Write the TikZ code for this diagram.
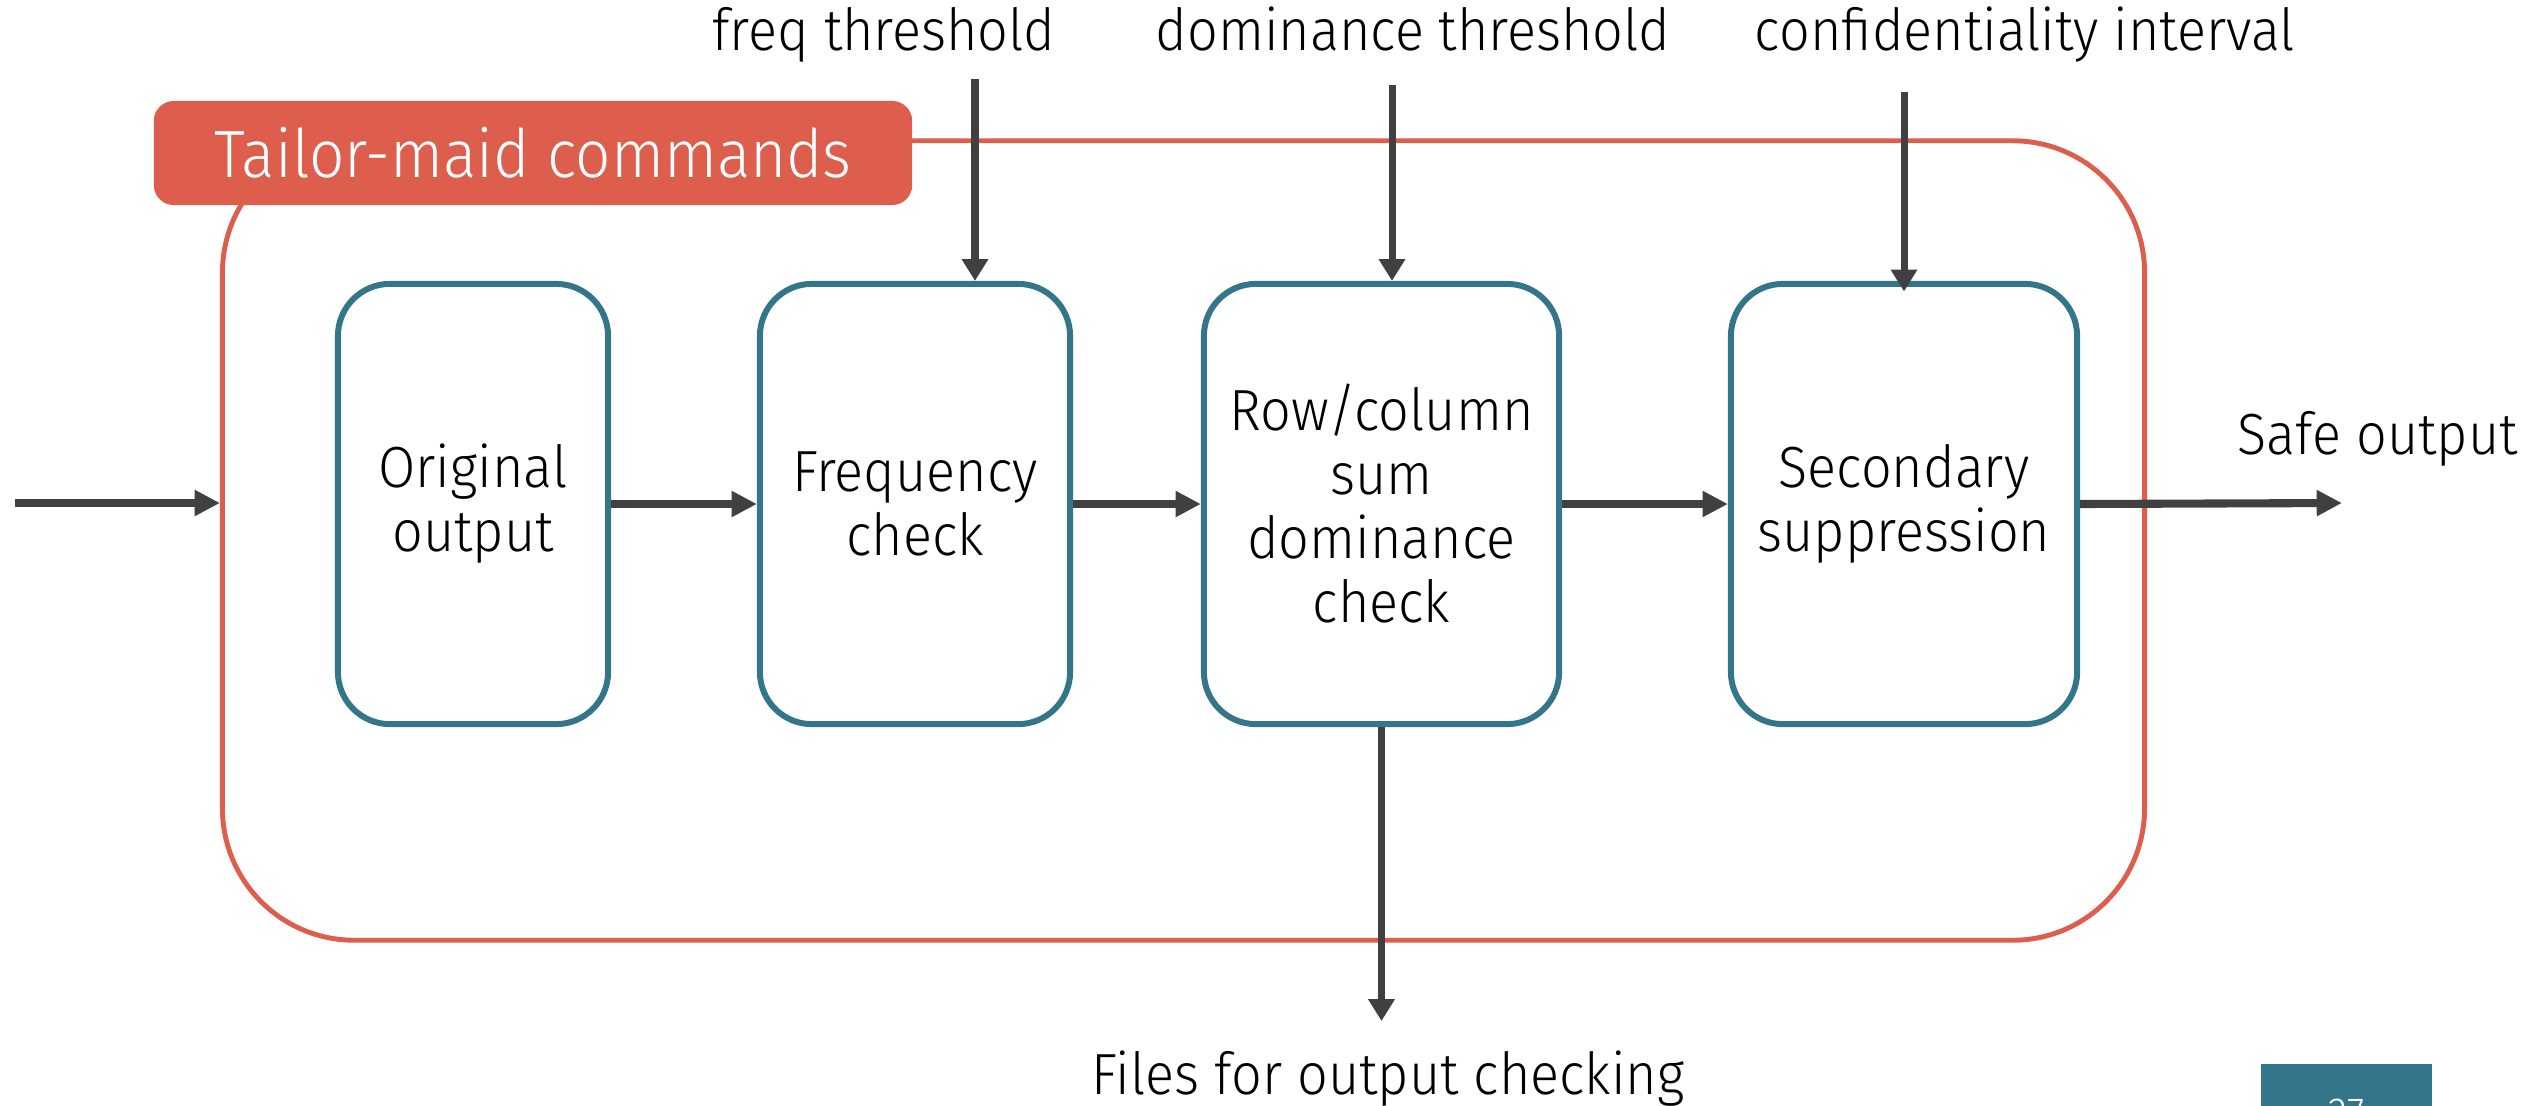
\documentclass[tikz,border=0pt]{standalone}
\usepackage{fontspec}
\setmainfont{Fira Sans Light}[FakeStretch=0.93]
\usetikzlibrary{arrows.meta}
\definecolor{tagred}{HTML}{DD5E4C}
\definecolor{stepteal}{HTML}{337689}
\definecolor{arrowgray}{HTML}{404040}
\begin{document}
\begin{tikzpicture}[x=0.01cm,y=-0.01cm,
  bodyfont/.style={font=\fontsize{16.5}{18.2}\selectfont},
  frame/.style={draw=tagred, line width=1.4pt, rounded corners=37.5pt,
    minimum width=19.21cm, minimum height=7.99cm, inner sep=0pt},
  tagbox/.style={fill=tagred, rounded corners=5.7pt, text=white,
    minimum width=7.58cm, minimum height=1.04cm, inner sep=0pt,
    font=\fontsize{19}{22}\selectfont},
  stepbox/.style={draw=stepteal, line width=1.7pt, rounded corners=14.8pt,
    minimum height=4.40cm, inner sep=0pt, align=center, bodyfont},
  flow/.style={draw=arrowgray, line width=2.3pt,
    -{Triangle[length=7.2pt,width=7pt]}},
  param/.style={draw=arrowgray, line width=2pt,
    -{Triangle[length=6.2pt,width=7.2pt]}},
  lbl/.style={bodyfont, inner sep=0pt}]
\useasboundingbox (0,0) rectangle (2542,1105);
\clip (0,0) rectangle (2542,1105);

% enclosing frame and its tag
\node[frame] (frame) at (1183.5,540.5) {};
\node[tagbox] (tag) at (533,153) {Tailor-maid commands};

% processing steps
\node[stepbox, minimum width=2.70cm] (orig) at (473,504) {Original\\output};
\node[stepbox, minimum width=3.10cm] (freq) at (915,504) {Frequency\\check};
\node[stepbox, minimum width=3.55cm] (dom) at (1381.5,504) {Row/column\\sum\\dominance\\check};
\node[stepbox, minimum width=3.46cm] (sec) at (1904,504) {Secondary\\suppression};

% parameters
\node[lbl, anchor=base] (pfreq) at (884,50) {freq threshold};
\node[lbl, anchor=base] (pdom) at (1413,50) {dominance threshold};
\node[lbl, anchor=base] (pconf) at (2025,50) {confidentiality interval};
\coordinate (sfreq) at (975,79);
\coordinate (sdom) at (1392,85);
\coordinate (sconf) at (1904,92);
\draw[param] (sfreq) -- (sfreq |- freq.north);
\draw[param] (sdom) -- (sdom |- dom.north);
\draw[param] (sconf) -- ([yshift=-3pt]sconf |- sec.north);

% main flow
\coordinate (input) at (15,503);
\coordinate (output) at (2342,503);
\draw[flow] (input) -- (input -| frame.west);
\draw[flow] (orig) -- (freq);
\draw[flow] (freq) -- (dom);
\draw[flow] (dom) -- (sec);
\draw[flow] (sec.east) -- (output);
\node[lbl, anchor=base west] (safe) at (2237,454) {Safe output};

% side output
\coordinate (files) at (1381.5,1021);
\draw[param] (dom.south) -- (files);
\node[lbl, anchor=base] (filelbl) at (1388,1094) {Files for output checking};

% page number
\node[fill=stepteal, minimum width=1.71cm, minimum height=1.00cm, inner sep=0pt,
  anchor=north] (page) at (2346.5,1063) {};
\node[text=white, font=\fontsize{12}{14}\selectfont, anchor=base] (pagenum)
  at (2346.5,1127) {27};
\end{tikzpicture}
\end{document}
